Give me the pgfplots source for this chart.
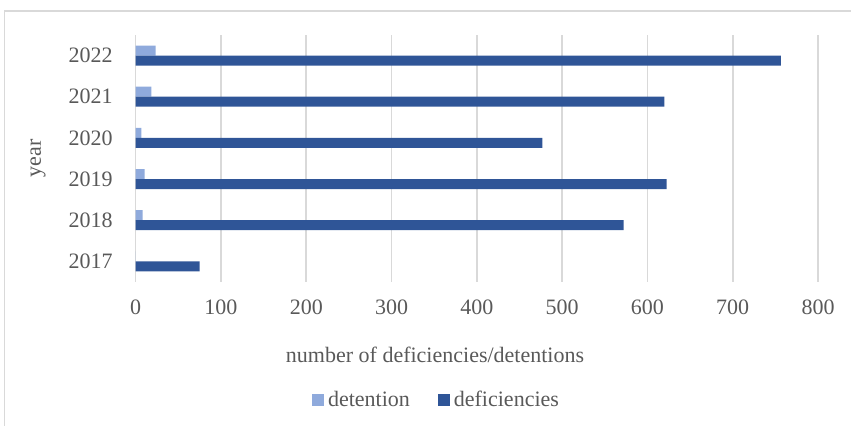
\documentclass[border=0pt]{standalone}
\usepackage{fontspec}
\setmainfont{Liberation Serif}
\usepackage{pgfplots}
\pgfplotsset{compat=1.18}
\definecolor{gridgray}{HTML}{D9D9D9}
\definecolor{txtgray}{HTML}{595959}
\definecolor{detc}{HTML}{8FAADC}
\definecolor{defc}{HTML}{2F5597}
\begin{document}
\begin{tikzpicture}[x=0.5pt,y=0.5pt]
\path[use as bounding box] (0,0) rectangle (851,426);
\draw[color=gridgray, line width=0.75pt] (4.5,0) -- (4.5,415) -- (851,415);
\begin{axis}[
  at={(67.85pt,72pt)}, anchor=south west,
  scale only axis, width=341.15pt, height=123.5pt,
  xbar, bar width=5pt,
  xmin=0, xmax=800, ymin=-0.5, ymax=5.5,
  xtick={0,100,...,800},
  ytick={0,1,2,3,4,5},
  yticklabels={2017,2018,2019,2020,2021,2022},
  axis line style={draw=none},
  major tick length=0pt,
  tick style={draw=none},
  xmajorgrids, ymajorgrids=false,
  major grid style={color=gridgray, line width=0.8pt},
  /pgf/number format/assume math mode=true,
  tick label style={font=\fontsize{11}{13}\selectfont, color=txtgray},
  yticklabel style={xshift=-8pt},
  xticklabel style={yshift=-5.3pt},
  xlabel={number of deficiencies/detentions},
  ylabel={year},
  label style={font=\fontsize{11}{13}\selectfont, color=txtgray},
  xlabel style={at={(axis description cs:0.4387,0)}, anchor=center, yshift=-36.5pt},
  ylabel style={at={(axis description cs:-0.1432,0.5)}, anchor=center},
  legend style={draw=none, at={(axis description cs:0.4423,0)}, anchor=center, yshift=-59pt,
    font=\fontsize{11}{13}\selectfont, text=txtgray, legend columns=2,
    /tikz/every even column/.append style={column sep=12pt}},
  legend image code/.code={\fill[#1] (0pt,-3pt) rectangle (6pt,3pt);},
]
\addplot[fill=detc, draw=none, bar shift=2.5pt] coordinates {
(0,0) (8.2,1) (10.5,2) (6.6,3) (18.3,4) (23.4,5)};
\addlegendentry{detention}
\addplot[fill=defc, draw=none, bar shift=-2.5pt] coordinates {
(75,0) (572,1) (622.5,2) (476.7,3) (620,4) (756.5,5)};
\addlegendentry{deficiencies}
\end{axis}
\end{tikzpicture}
\end{document}
